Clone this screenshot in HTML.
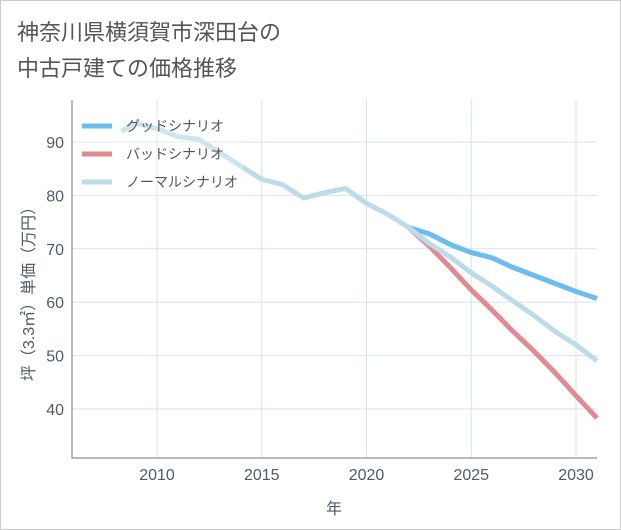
<!DOCTYPE html>
<html><head><meta charset="utf-8"><style>
body{margin:0;background:#fff;}
.w{position:relative;width:619px;height:528px;border:1px solid #ccc;background:#fff;font-family:"Liberation Sans","Noto Sans CJK JP",sans-serif;}
.t{position:absolute;left:16px;top:14px;font-size:22px;line-height:36px;color:#555;}
</style></head><body>
<div class="w">
<div class="t">神奈川県横須賀市深田台の<br>中古戸建ての価格推移</div>
<svg id="c" width="621" height="530" style="position:absolute;left:-1px;top:-1px"></svg>
</div>
<script>
const years=[2008.3,2009,2010,2011,2012,2013,2014,2015,2016,2017,2018,2019,2020,2021,2022,2023,2024,2025,2026,2027,2028,2029,2030,2031];
const normal=[92,93.5,92.5,91,90.5,88,85.5,83,82,79.5,80.5,81.3,78.5,76.5,74,71,68.5,65.5,63,60.2,57.5,54.5,52,49];
const goodYears=[2022,2023,2024,2025,2026,2027,2028,2029,2030,2031];
const good=[74,72.8,70.8,69.3,68.3,66.5,65,63.5,62,60.7];
const bad=[74,70.5,66.5,62.3,58.5,54.5,50.8,46.8,42.5,38.3];
const xTicks=[2010,2015,2020,2025,2030];
const yTicks=[40,50,60,70,80,90];
const NS="http://www.w3.org/2000/svg",svg=document.getElementById('c');
const L=72,R=597,T=100,B=458;
const x=v=>157+(v-2010)*20.95, y=v=>409-(v-40)*5.34;
function mk(t,a,p){const e=document.createElementNS(NS,t);for(const k in a)e.setAttribute(k,a[k]);(p||svg).appendChild(e);return e;}
xTicks.forEach(v=>{const l=mk('line',{x1:x(v),x2:x(v),y1:T,y2:B,stroke:'#d5e3ee'});
const t=mk('text',{x:x(v),y:480,'text-anchor':'middle','font-size':16,fill:'#4f5b66'});t.textContent=v;});
yTicks.forEach(v=>{const l=mk('line',{x1:L,x2:R,y1:y(v),y2:y(v),stroke:'#d5e3ee'});
const t=mk('text',{x:64,y:y(v)+6,'text-anchor':'end','font-size':16,fill:'#4f5b66'});t.textContent=v;});
const ax=mk('path',{d:`M${L},${T}V${B}H${R}`,stroke:'#777',fill:'none'});
function line(xs,vs,c,n){const p=mk('polyline',{points:xs.map((v,i)=>x(v)+','+y(vs[i])).join(' '),fill:'none',stroke:c,'stroke-width':5,'stroke-linejoin':'round'});}
line(goodYears,good,'#6cbcf0','good-line');
line(goodYears,bad,'#e08a92','bad-line');
line(years,normal,'#bcdcea','normal-line');
const lg=mk('g',{});
mk('rect',{x:78,y:112,width:165,height:84,fill:'#fff','fill-opacity':0.25},lg);
[['グッドシナリオ','#6cbcf0'],['バッドシナリオ','#e08a92'],['ノーマルシナリオ','#bcdcea']].forEach((d,i)=>{const yy=126+i*28;
mk('line',{x1:82,x2:112,y1:yy,y2:yy,stroke:d[1],'stroke-width':5},lg);
const t=mk('text',{x:126,y:yy+5,'font-size':14,fill:'#555'},lg);t.textContent=d[0];});
const xt=mk('text',{x:334,y:514,'text-anchor':'middle','font-size':16,fill:'#4f5b66'});xt.textContent='年';
const yt=mk('text',{x:0,y:0,'text-anchor':'middle','font-size':16,fill:'#4f5b66',transform:'translate(34,290) rotate(-90)'});yt.textContent='坪（3.3㎡）単価（万円）';
</script>
</body></html>
